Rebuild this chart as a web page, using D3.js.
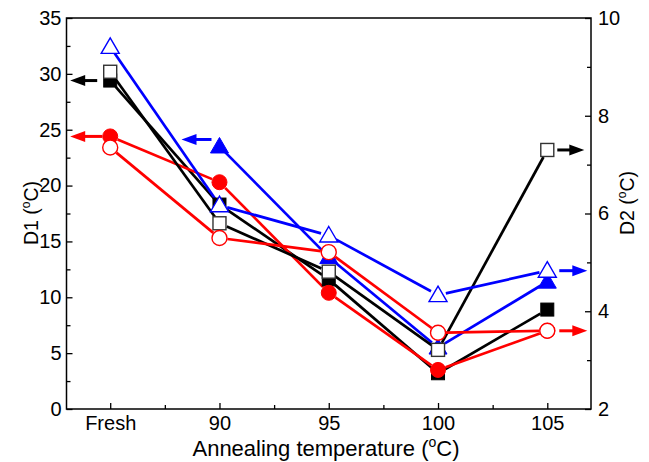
<!DOCTYPE html>
<html><head><meta charset="utf-8">
<script src="https://cdn.jsdelivr.net/npm/d3@7"></script>
<style>
body{margin:0;background:#fff;}
text{font-family:"Liberation Sans",Arial,sans-serif;}
</style></head>
<body>
<svg id="c" width="649" height="462"></svg>
<script>
const categories = ["Fresh","90","95","100","105"];
const d1Black = [29.4, 18.3, 11.6, 3.2, 8.9];
const d1Red   = [24.4, 20.3, 10.4, 3.5, 7.0];
const d1Blue  = [null, 23.5, 13.6, 5.5, 11.4];
const d2Black = [8.9, 5.8, 4.81, 3.21, 7.3];
const d2Red   = [7.35, 5.5, 5.21, 3.56, 3.6];
const d2Blue  = [9.41, 6.17, 5.55, 4.33, 4.83];
const d1Ticks = [0,5,10,15,20,25,30,35];
const d2Ticks = [2,4,6,8,10];

const svg = d3.select("#c");
const L=66.5, R=591, T=18, B=409;
const x = d3.scaleLinear().domain([-0.4, 4.4]).range([L,R]);
const y1 = d3.scaleLinear().domain([0,35]).range([B,T]);
const y2 = d3.scaleLinear().domain([2,10]).range([B,T]);

// frame
svg.append("rect").attr("x",L).attr("y",T).attr("width",R-L).attr("height",B-T)
  .attr("fill","none").attr("stroke","#000").attr("stroke-width",1.5);

// axes
const fs = "20px";
const gx = svg.append("g").attr("transform",`translate(0,${B})`)
  .call(d3.axisBottom(x).tickValues(d3.range(categories.length)).tickFormat(i=>categories[i]).tickSize(-6).tickPadding(7));
const gxm = svg.append("g").attr("transform",`translate(0,${B})`)
  .call(d3.axisBottom(x).tickValues([0.5,1.5,2.5,3.5]).tickFormat("").tickSize(-4));
const gy = svg.append("g").attr("transform",`translate(${L},0)`)
  .call(d3.axisLeft(y1).tickValues(d1Ticks).tickSize(-6).tickPadding(5));
const gym = svg.append("g").attr("transform",`translate(${L},0)`)
  .call(d3.axisLeft(y1).tickValues(d3.range(2.5,35,5)).tickFormat("").tickSize(-4));
const gy2 = svg.append("g").attr("transform",`translate(${R},0)`)
  .call(d3.axisRight(y2).tickValues(d2Ticks).tickSize(-6).tickPadding(7));
const gy2m = svg.append("g").attr("transform",`translate(${R},0)`)
  .call(d3.axisRight(y2).tickValues([3,5,7,9]).tickFormat("").tickSize(-4));
[gx,gxm,gy,gym,gy2,gy2m].forEach(g=>{
  g.select(".domain").remove();
  g.selectAll("line").attr("stroke","#000").attr("stroke-width",1.3);
  g.selectAll("text").attr("font-size",fs).attr("fill","#000").style("font-family","'Liberation Sans',Arial,sans-serif");
});

// axis titles
function title(sel, lab, size){
  sel.attr("font-size",size+"px");
  sel.append("tspan").text(lab+" (");
  sel.append("tspan").text("o").attr("font-size",Math.round(size*0.62)+"px").attr("dy",-size*0.42);
  sel.append("tspan").text("C)").attr("dy",size*0.42);
}
title(svg.append("text").attr("x",326).attr("y",456).attr("text-anchor","middle"), "Annealing temperature", 22);
title(svg.append("text").attr("transform","translate(38,213) rotate(-90)").attr("text-anchor","middle"), "D1", 19.5);
title(svg.append("text").attr("transform","translate(634,203) rotate(-90)").attr("text-anchor","middle"), "D2", 19.5);

// series (filled first, open on top)
const series = [
  {vals:d1Black, y:y1, color:"#000", shape:"square", open:false},
  {vals:d1Red,   y:y1, color:"#ff0000", shape:"circle", open:false},
  {vals:d1Blue,  y:y1, color:"#0000ff", shape:"triangle", open:false},
  {vals:d2Black, y:y2, color:"#000", shape:"square", open:true},
  {vals:d2Red,   y:y2, color:"#ff0000", shape:"circle", open:true},
  {vals:d2Blue,  y:y2, color:"#0000ff", shape:"triangle", open:true},
];
const gap = 8;
const lineG = svg.append("g"), markG = svg.append("g");
series.forEach(s=>{
  const pts = s.vals.map((v,i)=> v==null?null:[x(i), s.y(v)]);
  for(let i=0;i<pts.length-1;i++){
    const a=pts[i], b=pts[i+1];
    if(!a||!b) continue;
    const dx=b[0]-a[0], dy=b[1]-a[1], len=Math.hypot(dx,dy);
    const ux=dx/len, uy=dy/len;
    lineG.append("line")
      .attr("x1",a[0]+ux*gap).attr("y1",a[1]+uy*gap)
      .attr("x2",b[0]-ux*gap).attr("y2",b[1]-uy*gap)
      .attr("stroke",s.color).attr("stroke-width",2.7);
  }
});
series.forEach(s=>{
  s.vals.forEach((v,i)=>{
    if(v==null) return;
    const cx=x(i), cy=s.y(v);
    let m;
    if(s.shape==="square"){
      m = markG.append("rect").attr("x",cx-6.5).attr("y",cy-6.5).attr("width",13).attr("height",13);
    } else if(s.shape==="circle"){
      m = markG.append("circle").attr("cx",cx).attr("cy",cy).attr("r",7.5);
    } else {
      m = markG.append("path").attr("d",`M${cx},${cy-9}L${cx+9},${cy+6.5}L${cx-9},${cy+6.5}Z`);
    }
    if(s.open) m.attr("fill","#fff").attr("stroke",s.color==="#000"?"#333":s.color).attr("stroke-width",1.4);
    else m.attr("fill",s.color).attr("stroke",s.color).attr("stroke-width",1);
  });
});

// arrows indicating axis
function arrow(x1,y,x2,color){
  const dir = Math.sign(x2-x1);
  svg.append("line").attr("x1",x1).attr("y1",y).attr("x2",x2-dir*12).attr("y2",y)
    .attr("stroke",color).attr("stroke-width",3);
  svg.append("path").attr("d",`M${x2},${y}L${x2-dir*15},${y-5.5}L${x2-dir*15},${y+5.5}Z`).attr("fill",color);
}
arrow(x(0)-13, y1(d1Black[0]), x(0)-40, "#000");
arrow(x(0)-8, y1(d1Red[0]), x(0)-40, "#ff0000");
arrow(x(1)-8, y1(d1Blue[1])-7, x(1)-38, "#0000ff");
arrow(x(4)+10, y2(d2Black[4]), x(4)+37, "#000");
arrow(x(4)+12, y2(d2Blue[4]), x(4)+40, "#0000ff");
arrow(x(4)+12, y2(d2Red[4]), x(4)+40, "#ff0000");
</script>
</body></html>
